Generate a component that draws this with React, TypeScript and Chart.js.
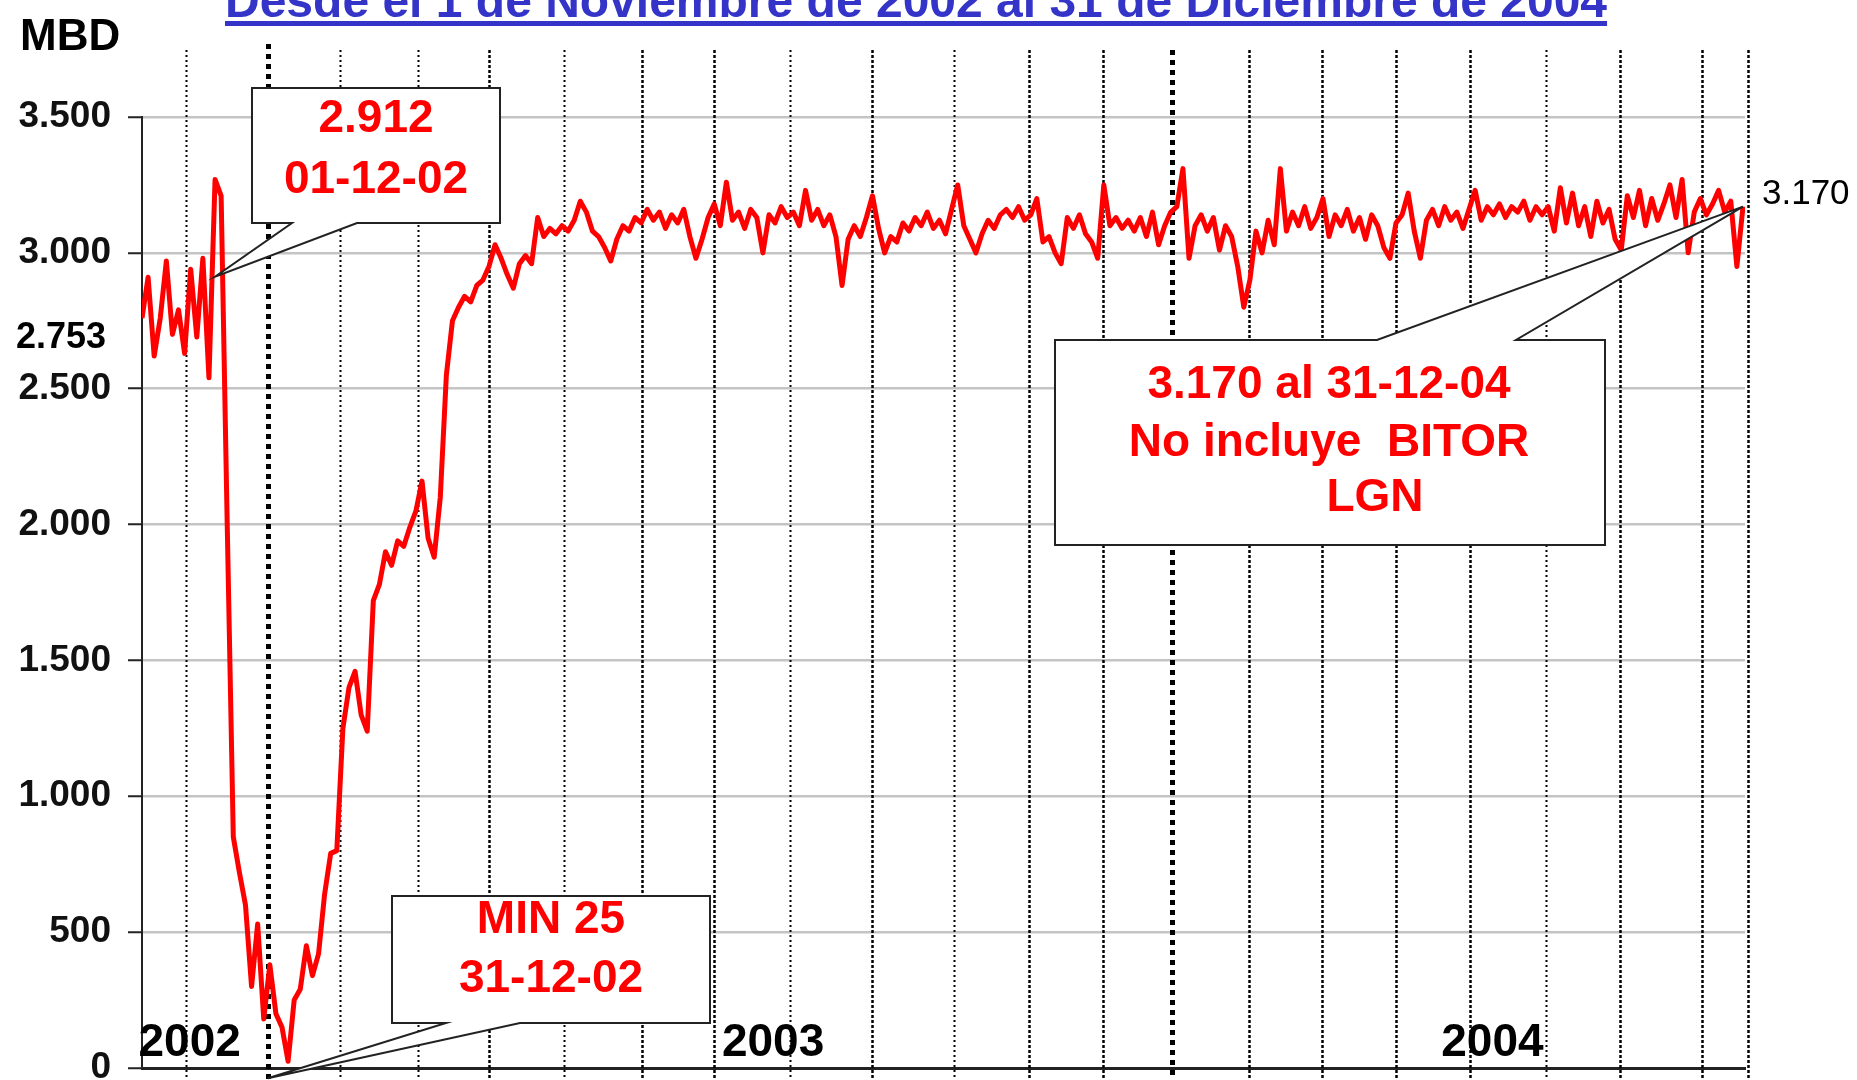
import React, { useEffect, useRef } from "react";
import { Chart, registerables } from "chart.js";

Chart.register(...registerables);

// ---- DATA -------------------------------------------------------------
// Daily production (MBD), read every 3 days from 01-11-2002 to 31-12-2004
const STEP_DAYS = 3;
const mbd: number[] = [
  2760, 2910, 2620, 2760, 2970, 2700, 2790, 2630, 2940, 2690,
  2980, 2540, 3270, 3210, 2000, 850, 720, 600, 300, 530,
  180, 380, 200, 150, 25, 250, 290, 450, 340, 420,
  640, 790, 800, 1250, 1400, 1460, 1300, 1240, 1720, 1780,
  1900, 1850, 1940, 1920, 1990, 2050, 2160, 1950, 1880, 2100,
  2550, 2750, 2800, 2840, 2820, 2880, 2900, 2950, 3030, 2980,
  2920, 2870, 2960, 2990, 2960, 3130, 3060, 3090, 3070, 3100,
  3080, 3120, 3190, 3150, 3080, 3060, 3020, 2970, 3050, 3100,
  3080, 3130, 3110, 3160, 3120, 3150, 3090, 3140, 3110, 3160,
  3060, 2980, 3050, 3130, 3180, 3100, 3260, 3120, 3150, 3090,
  3160, 3130, 3000, 3140, 3110, 3170, 3130, 3150, 3100, 3230,
  3120, 3160, 3100, 3140, 3060, 2880, 3050, 3100, 3060, 3130,
  3210, 3090, 3000, 3060, 3040, 3110, 3080, 3130, 3100, 3150,
  3090, 3120, 3070, 3160, 3250, 3100, 3050, 3000, 3070, 3120,
  3090, 3140, 3160, 3130, 3170, 3120, 3140, 3200, 3040, 3060,
  3000, 2960, 3130, 3090, 3140, 3070, 3040, 2980, 3250, 3100,
  3130, 3090, 3120, 3080, 3130, 3060, 3150, 3030, 3100, 3150,
  3170, 3310, 2980, 3100, 3140, 3080, 3130, 3010, 3100, 3060,
  2950, 2800, 2900, 3080, 3000, 3120, 3030, 3310, 3080, 3150,
  3100, 3170, 3090, 3130, 3200, 3060, 3140, 3100, 3160, 3080,
  3130, 3050, 3140, 3100, 3020, 2980, 3110, 3140, 3220, 3080,
  2980, 3120, 3160, 3100, 3170, 3120, 3150, 3090, 3160, 3230,
  3120, 3170, 3140, 3180, 3130, 3170, 3150, 3190, 3120, 3170,
  3140, 3170, 3080, 3240, 3110, 3220, 3100, 3170, 3060, 3190,
  3110, 3160, 3050, 3010, 3210, 3130, 3230, 3100, 3200, 3120,
  3180, 3250, 3130, 3270, 3000, 3150, 3200, 3140, 3180, 3230,
  3150, 3190, 2950, 3170,
];
const days: number[] = mbd.map((_, i) => i * STEP_DAYS);

const X_MAX_DAY = 790;
const Y_MAX = 3500;
const Y_STEP = 500;

// vertical dotted reference lines (day index) and their style kind
const verticalLineDays = [
  21.7, 62.1, 97.5, 136, 170.9, 207.9, 246.3, 281.8, 319.2, 359.6, 400,
  437, 473.4, 507.4, 545.8, 581.3, 618.2, 654.7, 692.1, 728.6, 769, 791.6,
];
const verticalLineKinds = [
  0, 2, 0, 0, 1, 0, 1, 1, 0, 1, 0, 1, 1, 2, 1, 1, 1, 1, 0, 1, 1, 1,
];

const yearLabels = ["2002", "2003", "2004"];
const yearLabelDays = [23.5, 311, 665.5];

const startValue = 2753;
const endValue = 3170;
const endDay = days[days.length - 1];

const titleText = "Desde el 1 de Noviembre de 2002 al 31 de Diciembre de 2004";
const unitText = "MBD";

const calloutTexts = [
  ["2.912", "01-12-02"],
  ["MIN 25", "31-12-02"],
  ["3.170 al 31-12-04", "No incluye  BITOR", "LGN"],
];
const calloutTips = [
  { day: 36, value: 2912, dy: 0 },
  { day: 62, value: 25, dy: 17 },
  { day: endDay, value: endValue, dy: 0 },
];

// ---- LAYOUT (pixels) --------------------------------------------------
const W = 1857;
const H = 1080;
const FONT = '"Liberation Sans", Arial, Helvetica, sans-serif';
const calloutLayout = [
  { box: [252, 88, 500, 223], side: "bottom", bases: [292, 357], cx: [376, 376], base: [132, 193] },
  { box: [392, 896, 710, 1023], side: "bottom", bases: [446, 520], cx: [551, 551], base: [933, 992] },
  { box: [1055, 340, 1605, 545], side: "top", bases: [1377, 1516], cx: [1329, 1329, 1375], base: [398, 456, 511] },
];

const fmt = (v: number) =>
  v >= 1000 ? `${Math.floor(v / 1000)}.${String(v % 1000).padStart(3, "0")}` : String(v);

const decorPlugin = {
  id: "decor",
  beforeDatasetsDraw(chart: any) {
    const { ctx } = chart;
    const x = chart.scales.x;
    ctx.save();
    verticalLineDays.forEach((d, i) => {
      const kind = verticalLineKinds[i];
      const px = Math.round(x.getPixelForValue(d)) + 0.5;
      ctx.beginPath();
      ctx.strokeStyle = "#000";
      if (kind === 2) {
        ctx.lineWidth = 5;
        ctx.setLineDash([5, 5]);
      } else if (kind === 1) {
        ctx.lineWidth = 2.5;
        ctx.setLineDash([3, 2]);
      } else {
        ctx.lineWidth = 2;
        ctx.setLineDash([2, 3]);
      }
      ctx.moveTo(px, kind === 2 && i === 1 ? 44 : 50);
      ctx.lineTo(px, chart.height);
      ctx.stroke();
    });
    ctx.restore();
  },
  afterDraw(chart: any) {
    const { ctx } = chart;
    const x = chart.scales.x;
    const y = chart.scales.y;
    ctx.save();

    // title (cut at the top)
    ctx.font = `bold 48px ${FONT}`;
    ctx.fillStyle = "#3434C8";
    ctx.textAlign = "left";
    ctx.textBaseline = "alphabetic";
    ctx.fillText(titleText, 225, 17);
    const tw = ctx.measureText(titleText).width;
    ctx.fillRect(225, 21, tw, 5);

    // unit
    ctx.font = `bold 44px ${FONT}`;
    ctx.fillStyle = "#000";
    ctx.fillText(unitText, 20, 50);

    // start value label
    ctx.font = `bold 36px ${FONT}`;
    ctx.textAlign = "right";
    ctx.textBaseline = "middle";
    ctx.fillText(fmt(startValue), 106, y.getPixelForValue(startValue) + 18);

    // end value label
    ctx.font = `35px ${FONT}`;
    ctx.textAlign = "left";
    ctx.fillText(fmt(endValue), 1762, y.getPixelForValue(endValue) - 12);

    // year labels
    ctx.font = `bold 46px ${FONT}`;
    ctx.textAlign = "center";
    ctx.textBaseline = "alphabetic";
    yearLabels.forEach((t, i) => {
      ctx.fillText(t, x.getPixelForValue(yearLabelDays[i]), 1056);
    });

    // callouts
    calloutLayout.forEach((c, k) => {
      const [L, T, R, B] = c.box;
      const tip = calloutTips[k];
      const tx = x.getPixelForValue(tip.day);
      const ty = y.getPixelForValue(tip.value) + tip.dy;
      ctx.beginPath();
      if (c.side === "bottom") {
        ctx.moveTo(L, T);
        ctx.lineTo(R, T);
        ctx.lineTo(R, B);
        ctx.lineTo(c.bases[1], B);
        ctx.lineTo(tx, ty);
        ctx.lineTo(c.bases[0], B);
        ctx.lineTo(L, B);
      } else {
        ctx.moveTo(L, T);
        ctx.lineTo(c.bases[0], T);
        ctx.lineTo(tx, ty);
        ctx.lineTo(c.bases[1], T);
        ctx.lineTo(R, T);
        ctx.lineTo(R, B);
        ctx.lineTo(L, B);
      }
      ctx.closePath();
      ctx.fillStyle = "#fff";
      ctx.fill();
      ctx.lineWidth = 2;
      ctx.strokeStyle = "#222";
      ctx.setLineDash([]);
      ctx.stroke();

      ctx.font = `bold 46px ${FONT}`;
      ctx.fillStyle = "#FF0000";
      ctx.textAlign = "center";
      ctx.textBaseline = "alphabetic";
      calloutTexts[k].forEach((line, j) => {
        ctx.fillText(line, c.cx[j], c.base[j]);
      });
    });

    ctx.restore();
  },
};

export default function App() {
  const ref = useRef<HTMLCanvasElement | null>(null);

  useEffect(() => {
    if (!ref.current) return;
    const chart = new Chart(ref.current, {
      type: "line",
      data: {
        datasets: [
          {
            label: "MBD",
            data: days.map((d, i) => ({ x: d, y: mbd[i] })),
            borderColor: "#FF0000",
            borderWidth: 5,
            pointRadius: 0,
            tension: 0,
            fill: false,
            borderJoinStyle: "round",
          },
        ],
      },
      options: {
        animation: false,
        responsive: false,
        devicePixelRatio: 1,
        layout: { padding: { top: 117, right: W - 1745, bottom: 0, left: 0 } },
        plugins: {
          legend: { display: false },
          title: { display: false },
          tooltip: { enabled: false },
        },
        scales: {
          x: {
            type: "linear",
            min: 0,
            max: X_MAX_DAY,
            ticks: { display: false },
            grid: { display: false },
            border: { display: true, color: "#222", width: 3 },
            afterFit: (s: any) => {
              s.height = 12;
              s.paddingLeft = 0;
              s.paddingRight = 0;
            },
          },
          y: {
            min: 0,
            max: Y_MAX,
            ticks: {
              stepSize: Y_STEP,
              color: "#111",
              padding: 17,
              font: { family: FONT, size: 37, weight: "bold" },
              callback: (v: any) => fmt(Number(v)),
            },
            grid: {
              color: "#C4C4C4",
              lineWidth: 2.5,
              tickColor: "#222",
              tickLength: 14,
              tickWidth: 2,
            },
            border: { display: true, color: "#222", width: 2 },
            afterFit: (s: any) => {
              s.width = 142;
              s.paddingTop = 0;
              s.paddingBottom = 0;
            },
          },
        },
      },
      plugins: [decorPlugin],
    } as any);
    return () => chart.destroy();
  }, []);

  return (
    <div style={{ position: "absolute", left: 0, top: 0, width: W, height: H, background: "#fff" }}>
      <canvas ref={ref} width={W} height={H} style={{ display: "block" }} />
    </div>
  );
}
